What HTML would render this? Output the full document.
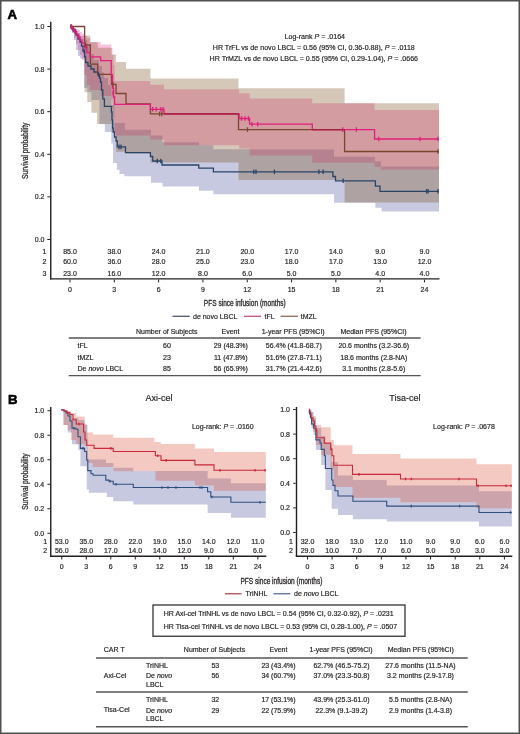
<!DOCTYPE html>
<html><head><meta charset="utf-8"><style>
html,body{margin:0;padding:0;background:#fff;}
body{width:520px;height:734px;overflow:hidden;}
svg{display:block;will-change:transform;}
text{font-family:"Liberation Sans", sans-serif;fill:#231f20;stroke:#231f20;stroke-width:0.18px;}
</style></head><body>
<svg width="520" height="734" viewBox="0 0 520 734">
<rect x="0" y="0" width="520" height="734" fill="#fff"/>

<polygon points="70.00,26.50 72.00,26.50 72.00,27.50 74.00,27.50 74.00,29.00 76.00,29.00 76.00,31.00 78.00,31.00 78.00,33.00 80.00,33.00 80.00,36.00 84.00,36.00 84.00,40.00 87.30,40.00 87.30,46.00 90.00,46.00 90.00,54.00 94.00,54.00 94.00,60.00 98.80,60.00 98.80,66.00 102.00,66.00 102.00,72.00 104.00,72.00 104.00,78.00 108.00,78.00 108.00,85.00 111.50,85.00 111.50,105.00 114.40,105.00 114.40,123.00 125.00,123.00 125.00,129.80 151.00,129.80 151.00,135.60 162.50,135.60 162.50,142.30 199.00,142.30 199.00,145.30 213.40,145.30 213.40,149.20 250.00,149.20 250.00,149.50 334.00,149.50 334.00,156.70 375.00,156.70 375.00,161.30 381.00,161.30 381.00,166.50 439.00,166.50 439.00,211.50 381.50,211.50 381.50,207.70 375.40,207.70 375.40,202.80 334.00,202.80 334.00,194.20 213.40,194.20 213.40,190.80 199.00,190.80 199.00,186.50 162.50,186.50 162.50,182.70 151.00,182.70 151.00,176.30 124.40,176.30 124.40,174.00 119.50,174.00 119.50,169.80 116.80,169.80 116.80,163.00 113.00,163.00 113.00,143.60 111.30,143.60 111.30,132.00 104.80,132.00 104.80,124.00 99.40,124.00 99.40,100.00 91.40,100.00 91.40,92.00 87.30,92.00 87.30,88.00 84.00,88.00 84.00,58.50 80.00,58.50 80.00,56.00 78.00,56.00 78.00,50.00 76.00,50.00 76.00,40.00 74.00,40.00 74.00,33.00 72.00,33.00 72.00,26.50 70.00,26.50" fill="rgb(80,88,160)" fill-opacity="0.32" stroke="none"/>
<polygon points="70.00,26.50 72.00,26.50 72.00,27.00 74.00,27.00 74.00,28.00 76.00,28.00 76.00,29.00 78.00,29.00 78.00,30.00 80.00,30.00 80.00,32.00 82.00,32.00 82.00,34.00 84.40,34.00 84.40,36.00 86.90,36.00 86.90,38.00 90.00,38.00 90.00,42.00 100.60,42.00 100.60,44.40 111.25,44.40 111.25,48.00 112.50,48.00 112.50,55.00 113.50,55.00 113.50,65.00 114.60,65.00 114.60,81.00 150.40,81.00 150.40,84.80 164.00,84.80 164.00,89.20 239.20,89.20 239.20,93.30 249.60,93.30 249.60,98.40 312.30,98.40 312.30,103.30 374.60,103.30 374.60,110.00 439.00,110.00 439.00,169.70 381.00,169.70 381.00,167.00 374.60,167.00 374.60,162.80 312.30,162.80 312.30,155.50 249.60,155.50 249.60,148.50 239.20,148.50 239.20,145.20 164.00,145.20 164.00,139.40 150.40,139.40 150.40,135.60 114.60,135.60 114.60,118.00 113.50,118.00 113.50,108.00 112.50,108.00 112.50,100.00 111.25,100.00 111.25,96.00 100.60,96.00 100.60,90.00 90.00,90.00 90.00,85.00 86.90,85.00 86.90,75.00 84.40,75.00 84.40,60.00 82.00,60.00 82.00,55.00 80.00,55.00 80.00,50.00 78.00,50.00 78.00,44.00 76.00,44.00 76.00,38.00 74.00,38.00 74.00,32.00 72.00,32.00 72.00,26.50 70.00,26.50" fill="rgb(235,50,137)" fill-opacity="0.3" stroke="none"/>
<polygon points="70.00,26.50 84.60,26.50 84.60,35.40 90.40,35.40 90.40,42.30 97.70,42.30 97.70,47.70 111.50,47.70 111.50,54.50 116.00,54.50 116.00,62.00 126.00,62.00 126.00,68.80 150.40,68.80 150.40,78.50 238.50,78.50 238.50,88.20 344.60,88.20 344.60,103.30 439.00,103.30 439.00,202.50 344.60,202.50 344.60,180.00 238.50,180.00 238.50,162.50 150.40,162.50 150.40,153.40 126.00,153.40 126.00,151.70 116.00,151.70 116.00,132.00 111.50,132.00 111.50,124.00 97.10,124.00 97.10,112.70 91.40,112.70 91.40,102.00 87.30,102.00 87.30,92.30 84.60,92.30 84.60,26.50 70.00,26.50" fill="rgb(118,72,22)" fill-opacity="0.3" stroke="none"/>
<polyline points="70.00,26.50 72.00,26.50 72.00,29.00 74.00,29.00 74.00,31.50 76.00,31.50 76.00,35.00 78.00,35.00 78.00,39.00 80.00,39.00 80.00,42.00 81.50,42.00 81.50,46.00 83.00,46.00 83.00,51.00 84.60,51.00 84.60,57.00 85.60,57.00 85.60,62.50 88.00,62.50 88.00,66.00 91.00,66.00 91.00,69.00 94.00,69.00 94.00,72.00 97.60,72.00 97.60,74.50 99.50,74.50 99.50,78.00 100.40,78.00 100.40,82.00 101.50,82.00 101.50,90.00 102.80,90.00 102.80,98.80 104.40,98.80 104.40,106.30 111.40,106.30 111.40,112.00 112.00,112.00 112.00,120.00 112.60,120.00 112.60,128.00 113.20,128.00 113.20,132.00 114.50,132.00 114.50,137.00 116.00,137.00 116.00,141.00 117.30,141.00 117.30,146.90 125.50,146.90 125.50,152.70 150.40,152.70 150.40,156.50 152.70,156.50 152.70,161.00 162.00,161.00 162.00,165.00 198.80,165.00 198.80,168.20 213.40,168.20 213.40,171.80 332.90,171.80 332.90,176.50 335.50,176.50 335.50,180.80 375.40,180.80 375.40,186.20 380.00,186.20 380.00,191.40 439.00,191.40" fill="none" stroke="#2a4468" stroke-width="1.3"/>
<polyline points="70.00,26.50 84.60,26.50 84.60,45.00 90.40,45.00 90.40,64.20 97.70,64.20 97.70,74.40 111.50,74.40 111.50,84.40 116.00,84.40 116.00,93.50 126.00,93.50 126.00,103.80 150.40,103.80 150.40,113.90 238.50,113.90 238.50,129.60 344.60,129.60 344.60,151.50 439.00,151.50" fill="none" stroke="#7a4630" stroke-width="1.3"/>
<polyline points="70.00,26.50 72.00,26.50 72.00,29.00 74.00,29.00 74.00,31.50 76.00,31.50 76.00,34.00 78.00,34.00 78.00,37.00 80.00,37.00 80.00,40.00 82.00,40.00 82.00,43.00 84.40,43.00 84.40,47.00 86.90,47.00 86.90,52.50 90.00,52.50 90.00,56.90 100.60,56.90 100.60,60.60 111.25,60.60 111.25,75.00 112.50,75.00 112.50,88.00 113.50,88.00 113.50,97.00 114.60,97.00 114.60,104.40 150.40,104.40 150.40,109.30 164.00,109.30 164.00,113.90 239.20,113.90 239.20,118.50 249.60,118.50 249.60,124.20 312.30,124.20 312.30,129.60 374.60,129.60 374.60,139.00 439.00,139.00" fill="none" stroke="#e0207a" stroke-width="1.3"/>
<line x1="164" y1="113.9" x2="238.5" y2="113.9" stroke="#a3203e" stroke-width="1.4"/>
<line x1="312.3" y1="129.6" x2="344.6" y2="129.6" stroke="#a3203e" stroke-width="1.4"/>
<line x1="71" y1="24.2" x2="71" y2="28.8" stroke="#2a4468" stroke-width="1.3"/>
<line x1="73" y1="26.7" x2="73" y2="31.3" stroke="#2a4468" stroke-width="1.3"/>
<line x1="75.5" y1="29.2" x2="75.5" y2="33.8" stroke="#2a4468" stroke-width="1.3"/>
<line x1="84" y1="48.7" x2="84" y2="53.3" stroke="#2a4468" stroke-width="1.3"/>
<line x1="98.5" y1="72.2" x2="98.5" y2="76.8" stroke="#2a4468" stroke-width="1.3"/>
<line x1="119" y1="144.6" x2="119" y2="149.20000000000002" stroke="#2a4468" stroke-width="1.3"/>
<line x1="121" y1="144.6" x2="121" y2="149.20000000000002" stroke="#2a4468" stroke-width="1.3"/>
<line x1="157.3" y1="158.7" x2="157.3" y2="163.3" stroke="#2a4468" stroke-width="1.3"/>
<line x1="160.8" y1="158.7" x2="160.8" y2="163.3" stroke="#2a4468" stroke-width="1.3"/>
<line x1="253.8" y1="169.5" x2="253.8" y2="174.10000000000002" stroke="#2a4468" stroke-width="1.3"/>
<line x1="256" y1="169.5" x2="256" y2="174.10000000000002" stroke="#2a4468" stroke-width="1.3"/>
<line x1="274.4" y1="169.5" x2="274.4" y2="174.10000000000002" stroke="#2a4468" stroke-width="1.3"/>
<line x1="318.9" y1="169.5" x2="318.9" y2="174.10000000000002" stroke="#2a4468" stroke-width="1.3"/>
<line x1="323.1" y1="169.5" x2="323.1" y2="174.10000000000002" stroke="#2a4468" stroke-width="1.3"/>
<line x1="343.1" y1="178.5" x2="343.1" y2="183.10000000000002" stroke="#2a4468" stroke-width="1.3"/>
<line x1="426.6" y1="189.0" x2="426.6" y2="193.60000000000002" stroke="#2a4468" stroke-width="1.3"/>
<line x1="428" y1="189.0" x2="428" y2="193.60000000000002" stroke="#2a4468" stroke-width="1.3"/>
<line x1="438" y1="189.0" x2="438" y2="193.60000000000002" stroke="#2a4468" stroke-width="1.3"/>
<line x1="71.5" y1="24.2" x2="71.5" y2="28.8" stroke="#e0207a" stroke-width="1.3"/>
<line x1="73" y1="26.7" x2="73" y2="31.3" stroke="#e0207a" stroke-width="1.3"/>
<line x1="75" y1="29.2" x2="75" y2="33.8" stroke="#e0207a" stroke-width="1.3"/>
<line x1="79" y1="34.7" x2="79" y2="39.3" stroke="#e0207a" stroke-width="1.3"/>
<line x1="85.5" y1="44.7" x2="85.5" y2="49.3" stroke="#e0207a" stroke-width="1.3"/>
<line x1="112" y1="77.7" x2="112" y2="82.3" stroke="#e0207a" stroke-width="1.3"/>
<line x1="113" y1="90.7" x2="113" y2="95.3" stroke="#e0207a" stroke-width="1.3"/>
<line x1="152.7" y1="107.0" x2="152.7" y2="111.6" stroke="#e0207a" stroke-width="1.3"/>
<line x1="156.2" y1="107.0" x2="156.2" y2="111.6" stroke="#e0207a" stroke-width="1.3"/>
<line x1="160.8" y1="107.0" x2="160.8" y2="111.6" stroke="#e0207a" stroke-width="1.3"/>
<line x1="163" y1="107.0" x2="163" y2="111.6" stroke="#e0207a" stroke-width="1.3"/>
<line x1="241.5" y1="116.2" x2="241.5" y2="120.8" stroke="#e0207a" stroke-width="1.3"/>
<line x1="245" y1="116.2" x2="245" y2="120.8" stroke="#e0207a" stroke-width="1.3"/>
<line x1="248.5" y1="116.2" x2="248.5" y2="120.8" stroke="#e0207a" stroke-width="1.3"/>
<line x1="252" y1="121.9" x2="252" y2="126.5" stroke="#e0207a" stroke-width="1.3"/>
<line x1="257.7" y1="121.9" x2="257.7" y2="126.5" stroke="#e0207a" stroke-width="1.3"/>
<line x1="342.7" y1="127.3" x2="342.7" y2="131.9" stroke="#e0207a" stroke-width="1.3"/>
<line x1="356.4" y1="127.3" x2="356.4" y2="131.9" stroke="#e0207a" stroke-width="1.3"/>
<line x1="378.7" y1="136.7" x2="378.7" y2="141.3" stroke="#e0207a" stroke-width="1.3"/>
<line x1="420" y1="136.7" x2="420" y2="141.3" stroke="#e0207a" stroke-width="1.3"/>
<line x1="437.9" y1="136.7" x2="437.9" y2="141.3" stroke="#e0207a" stroke-width="1.3"/>
<line x1="85.5" y1="42.7" x2="85.5" y2="47.3" stroke="#7a4630" stroke-width="1.3"/>
<line x1="113" y1="82.10000000000001" x2="113" y2="86.7" stroke="#7a4630" stroke-width="1.3"/>
<line x1="159.6" y1="111.60000000000001" x2="159.6" y2="116.2" stroke="#7a4630" stroke-width="1.3"/>
<line x1="161.9" y1="111.60000000000001" x2="161.9" y2="116.2" stroke="#7a4630" stroke-width="1.3"/>
<line x1="247.5" y1="127.3" x2="247.5" y2="131.9" stroke="#7a4630" stroke-width="1.3"/>
<line x1="438" y1="149.2" x2="438" y2="153.8" stroke="#7a4630" stroke-width="1.3"/>
<line x1="50.75" y1="21.8" x2="50.75" y2="279.6" stroke="#231f20" stroke-width="1.4"/>
<line x1="50.05" y1="278.9" x2="439.5" y2="278.9" stroke="#231f20" stroke-width="1.4"/>
<line x1="47.3" y1="239.50" x2="50" y2="239.50" stroke="#231f20" stroke-width="1"/>
<text x="44.5" y="241.90" font-size="7" text-anchor="end" >0.0</text>
<line x1="47.3" y1="196.90" x2="50" y2="196.90" stroke="#231f20" stroke-width="1"/>
<text x="44.5" y="199.30" font-size="7" text-anchor="end" >0.2</text>
<line x1="47.3" y1="154.30" x2="50" y2="154.30" stroke="#231f20" stroke-width="1"/>
<text x="44.5" y="156.70" font-size="7" text-anchor="end" >0.4</text>
<line x1="47.3" y1="111.70" x2="50" y2="111.70" stroke="#231f20" stroke-width="1"/>
<text x="44.5" y="114.10" font-size="7" text-anchor="end" >0.6</text>
<line x1="47.3" y1="69.10" x2="50" y2="69.10" stroke="#231f20" stroke-width="1"/>
<text x="44.5" y="71.50" font-size="7" text-anchor="end" >0.8</text>
<line x1="47.3" y1="26.50" x2="50" y2="26.50" stroke="#231f20" stroke-width="1"/>
<text x="44.5" y="28.90" font-size="7" text-anchor="end" >1.0</text>
<line x1="70.00" y1="279.6" x2="70.00" y2="282.4" stroke="#231f20" stroke-width="1"/>
<text x="70.00" y="292.3" font-size="7" text-anchor="middle" >0</text>
<line x1="114.31" y1="279.6" x2="114.31" y2="282.4" stroke="#231f20" stroke-width="1"/>
<text x="114.31" y="292.3" font-size="7" text-anchor="middle" >3</text>
<line x1="158.62" y1="279.6" x2="158.62" y2="282.4" stroke="#231f20" stroke-width="1"/>
<text x="158.62" y="292.3" font-size="7" text-anchor="middle" >6</text>
<line x1="202.93" y1="279.6" x2="202.93" y2="282.4" stroke="#231f20" stroke-width="1"/>
<text x="202.93" y="292.3" font-size="7" text-anchor="middle" >9</text>
<line x1="247.24" y1="279.6" x2="247.24" y2="282.4" stroke="#231f20" stroke-width="1"/>
<text x="247.24" y="292.3" font-size="7" text-anchor="middle" >12</text>
<line x1="291.55" y1="279.6" x2="291.55" y2="282.4" stroke="#231f20" stroke-width="1"/>
<text x="291.55" y="292.3" font-size="7" text-anchor="middle" >15</text>
<line x1="335.86" y1="279.6" x2="335.86" y2="282.4" stroke="#231f20" stroke-width="1"/>
<text x="335.86" y="292.3" font-size="7" text-anchor="middle" >18</text>
<line x1="380.17" y1="279.6" x2="380.17" y2="282.4" stroke="#231f20" stroke-width="1"/>
<text x="380.17" y="292.3" font-size="7" text-anchor="middle" >21</text>
<line x1="424.48" y1="279.6" x2="424.48" y2="282.4" stroke="#231f20" stroke-width="1"/>
<text x="424.48" y="292.3" font-size="7" text-anchor="middle" >24</text>
<text x="0" y="0" font-size="8.2" text-anchor="middle" style="stroke-width:0.25px" transform="translate(27.6,150.75) rotate(-90) scale(0.82,1)">Survival probability</text>
<text x="0" y="0" font-size="8.7" text-anchor="middle" style="stroke-width:0.3px" transform="translate(244.8,305.6) scale(0.755,1)">PFS since infusion (months)</text>
<text x="70.00" y="254.2" font-size="7" text-anchor="middle" >85.0</text>
<text x="114.31" y="254.2" font-size="7" text-anchor="middle" >38.0</text>
<text x="158.62" y="254.2" font-size="7" text-anchor="middle" >24.0</text>
<text x="202.93" y="254.2" font-size="7" text-anchor="middle" >21.0</text>
<text x="247.24" y="254.2" font-size="7" text-anchor="middle" >20.0</text>
<text x="291.55" y="254.2" font-size="7" text-anchor="middle" >17.0</text>
<text x="335.86" y="254.2" font-size="7" text-anchor="middle" >14.0</text>
<text x="380.17" y="254.2" font-size="7" text-anchor="middle" >9.0</text>
<text x="424.48" y="254.2" font-size="7" text-anchor="middle" >9.0</text>
<text x="70.00" y="264.2" font-size="7" text-anchor="middle" >60.0</text>
<text x="114.31" y="264.2" font-size="7" text-anchor="middle" >36.0</text>
<text x="158.62" y="264.2" font-size="7" text-anchor="middle" >28.0</text>
<text x="202.93" y="264.2" font-size="7" text-anchor="middle" >25.0</text>
<text x="247.24" y="264.2" font-size="7" text-anchor="middle" >23.0</text>
<text x="291.55" y="264.2" font-size="7" text-anchor="middle" >18.0</text>
<text x="335.86" y="264.2" font-size="7" text-anchor="middle" >17.0</text>
<text x="380.17" y="264.2" font-size="7" text-anchor="middle" >13.0</text>
<text x="424.48" y="264.2" font-size="7" text-anchor="middle" >12.0</text>
<text x="70.00" y="275.8" font-size="7" text-anchor="middle" >23.0</text>
<text x="114.31" y="275.8" font-size="7" text-anchor="middle" >16.0</text>
<text x="158.62" y="275.8" font-size="7" text-anchor="middle" >12.0</text>
<text x="202.93" y="275.8" font-size="7" text-anchor="middle" >8.0</text>
<text x="247.24" y="275.8" font-size="7" text-anchor="middle" >6.0</text>
<text x="291.55" y="275.8" font-size="7" text-anchor="middle" >5.0</text>
<text x="335.86" y="275.8" font-size="7" text-anchor="middle" >5.0</text>
<text x="380.17" y="275.8" font-size="7" text-anchor="middle" >4.0</text>
<text x="424.48" y="275.8" font-size="7" text-anchor="middle" >4.0</text>
<text x="46.5" y="254.2" font-size="7" text-anchor="end" >1</text>
<text x="46.5" y="264.2" font-size="7" text-anchor="end" >2</text>
<text x="46.5" y="275.8" font-size="7" text-anchor="end" >3</text>
<text x="314.8" y="38.8" font-size="7.1" text-anchor="middle" >Log-rank <tspan font-style="italic">P</tspan> = .0164</text>
<text x="313.8" y="49.8" font-size="7.1" text-anchor="middle" >HR TrFL vs de novo LBCL = 0.56 (95% CI, 0.36-0.88), <tspan font-style="italic">P</tspan> = .0118</text>
<text x="313.8" y="60.8" font-size="7.1" text-anchor="middle" >HR TrMZL vs de novo LBCL = 0.55 (95% CI, 0.29-1.04), <tspan font-style="italic">P</tspan> = .0666</text>
<text x="7.6" y="18.6" font-size="13.2" text-anchor="start" font-weight="bold" style="stroke:#000;fill:#000;stroke-width:0.6px">A</text>
<line x1="172.5" y1="316.3" x2="189.7" y2="316.3" stroke="#4b5a72" stroke-width="1.3"/>
<text x="193" y="319" font-size="7" text-anchor="start" >de novo LBCL</text>
<line x1="244" y1="316.3" x2="261" y2="316.3" stroke="#c2507e" stroke-width="1.3"/>
<text x="264.6" y="319" font-size="7" text-anchor="start" >tFL</text>
<line x1="280.5" y1="316.3" x2="297.9" y2="316.3" stroke="#8c6e5a" stroke-width="1.3"/>
<text x="300.8" y="319" font-size="7" text-anchor="start" >tMZL</text>
<line x1="68.75" y1="338" x2="420.6" y2="338" stroke="#555" stroke-width="1.4"/>
<line x1="68.75" y1="375.6" x2="420.6" y2="375.6" stroke="#555" stroke-width="1.4"/>
<text x="166.8" y="333.5" font-size="7" text-anchor="middle" >Number of Subjects</text>
<text x="230.5" y="333.5" font-size="7" text-anchor="middle" >Event</text>
<text x="293.2" y="333.5" font-size="7" text-anchor="middle" >1-year PFS (95%CI)</text>
<text x="373.5" y="333.5" font-size="7" text-anchor="middle" >Median PFS (95%CI)</text>
<text x="77.5" y="348" font-size="7" text-anchor="start" >tFL</text>
<text x="167" y="348" font-size="7" text-anchor="middle" >60</text>
<text x="230.8" y="348" font-size="7" text-anchor="middle" >29 (48.3%)</text>
<text x="293.8" y="348" font-size="7" text-anchor="middle" >56.4% (41.8-68.7)</text>
<text x="373.8" y="348" font-size="7" text-anchor="middle" >20.6 months (3.2-36.6)</text>
<text x="77.5" y="359.5" font-size="7" text-anchor="start" >tMZL</text>
<text x="167" y="359.5" font-size="7" text-anchor="middle" >23</text>
<text x="230.8" y="359.5" font-size="7" text-anchor="middle" >11 (47.8%)</text>
<text x="293.8" y="359.5" font-size="7" text-anchor="middle" >51.6% (27.8-71.1)</text>
<text x="373.8" y="359.5" font-size="7" text-anchor="middle" >18.6 months (2.8-NA)</text>
<text x="77.5" y="371" font-size="7" text-anchor="start" >De <tspan font-style="italic">novo</tspan> LBCL</text>
<text x="167" y="371" font-size="7" text-anchor="middle" >85</text>
<text x="230.8" y="371" font-size="7" text-anchor="middle" >56 (65.9%)</text>
<text x="293.8" y="371" font-size="7" text-anchor="middle" >31.7% (21.4-42.6)</text>
<text x="373.8" y="371" font-size="7" text-anchor="middle" >3.1 months (2.8-5.6)</text>
<text x="7.9" y="403.8" font-size="13.2" text-anchor="start" font-weight="bold" style="stroke:#000;fill:#000;stroke-width:0.6px">B</text>
<polygon points="61.30,409.50 63.50,409.50 63.50,411.00 67.70,411.00 67.70,413.50 72.00,413.50 72.00,418.00 78.30,418.00 78.30,420.00 84.60,420.00 84.60,425.00 87.50,425.00 87.50,459.60 106.00,459.60 106.00,463.00 113.50,463.00 113.50,467.70 133.30,467.70 133.30,471.00 207.60,471.00 207.60,478.60 230.90,478.60 230.90,483.30 265.80,483.30 265.80,517.80 230.90,517.80 230.90,512.90 207.60,512.90 207.60,504.40 133.30,504.40 133.30,501.30 113.20,501.30 113.20,497.00 106.80,497.00 106.80,492.80 88.80,492.80 88.80,489.60 86.70,489.60 86.70,466.30 80.40,466.30 80.40,450.00 78.30,450.00 78.30,444.30 72.00,444.30 72.00,432.50 67.70,432.50 67.70,425.00 63.50,425.00 63.50,411.00 61.30,411.00" fill="rgb(80,88,160)" fill-opacity="0.32" stroke="none"/>
<polygon points="61.30,409.50 63.50,409.50 63.50,410.00 67.70,410.00 67.70,411.00 70.90,411.00 70.90,413.00 76.20,413.00 76.20,416.50 84.60,416.50 84.60,424.00 86.70,424.00 86.70,432.50 93.00,432.50 93.00,434.60 113.20,434.60 113.20,437.80 154.40,437.80 154.40,442.00 160.80,442.00 160.80,444.10 194.90,444.10 194.90,448.40 214.00,448.40 214.00,452.00 265.80,452.00 265.80,490.70 214.00,490.70 214.00,485.40 194.90,485.40 194.90,480.70 155.50,480.70 155.50,471.00 133.30,471.00 133.30,471.20 113.50,471.20 113.50,467.10 92.70,467.10 92.70,463.00 86.70,463.00 86.70,446.00 84.60,446.00 84.60,444.30 76.20,444.30 76.20,440.00 70.90,440.00 70.90,430.00 67.70,430.00 67.70,425.00 63.50,425.00 63.50,411.00 61.30,411.00" fill="rgb(215,75,50)" fill-opacity="0.3" stroke="none"/>
<polyline points="61.30,409.70 64.00,409.70 64.00,411.00 66.00,411.00 66.00,413.00 68.00,413.00 68.00,416.00 70.00,416.00 70.00,421.00 72.00,421.00 72.00,428.30 76.00,428.30 76.00,429.30 78.00,429.30 78.00,436.70 80.40,436.70 80.40,448.40 84.60,448.40 84.60,451.50 86.70,451.50 86.70,460.00 87.80,460.00 87.80,470.60 91.00,470.60 91.00,473.80 93.10,473.80 93.10,475.20 105.80,475.20 105.80,480.10 109.00,480.10 109.00,481.20 113.20,481.20 113.20,484.30 133.30,484.30 133.30,487.50 207.60,487.50 207.60,491.70 210.80,491.70 210.80,497.00 230.90,497.00 230.90,502.30 265.80,502.30" fill="none" stroke="#2f4f7f" stroke-width="1.1"/>
<polyline points="61.30,409.70 64.00,409.70 64.00,411.00 67.00,411.00 67.00,412.50 69.80,412.50 69.80,414.50 73.00,414.50 73.00,419.80 76.20,419.80 76.20,424.00 83.60,424.00 83.60,432.00 85.00,432.00 85.00,440.00 86.70,440.00 86.70,445.20 94.10,445.20 94.10,448.40 113.20,448.40 113.20,451.50 155.40,451.50 155.40,455.80 161.00,455.80 161.00,460.40 194.90,460.40 194.90,464.90 214.00,464.90 214.00,470.20 265.80,470.20" fill="none" stroke="#c8283a" stroke-width="1.1"/>
<line x1="79" y1="422.7" x2="79" y2="425.3" stroke="#c8283a" stroke-width="1.3"/>
<line x1="110.8" y1="447.09999999999997" x2="110.8" y2="449.7" stroke="#c8283a" stroke-width="1.3"/>
<line x1="157.7" y1="454.5" x2="157.7" y2="457.1" stroke="#c8283a" stroke-width="1.3"/>
<line x1="166.2" y1="459.09999999999997" x2="166.2" y2="461.7" stroke="#c8283a" stroke-width="1.3"/>
<line x1="220" y1="468.9" x2="220" y2="471.5" stroke="#c8283a" stroke-width="1.3"/>
<line x1="255" y1="468.9" x2="255" y2="471.5" stroke="#c8283a" stroke-width="1.3"/>
<line x1="265" y1="468.9" x2="265" y2="471.5" stroke="#c8283a" stroke-width="1.3"/>
<line x1="74" y1="427.0" x2="74" y2="429.6" stroke="#2f4f7f" stroke-width="1.3"/>
<line x1="83" y1="447.09999999999997" x2="83" y2="449.7" stroke="#2f4f7f" stroke-width="1.3"/>
<line x1="110" y1="479.9" x2="110" y2="482.5" stroke="#2f4f7f" stroke-width="1.3"/>
<line x1="116" y1="483.0" x2="116" y2="485.6" stroke="#2f4f7f" stroke-width="1.3"/>
<line x1="162" y1="486.2" x2="162" y2="488.8" stroke="#2f4f7f" stroke-width="1.3"/>
<line x1="168" y1="486.2" x2="168" y2="488.8" stroke="#2f4f7f" stroke-width="1.3"/>
<line x1="176" y1="486.2" x2="176" y2="488.8" stroke="#2f4f7f" stroke-width="1.3"/>
<line x1="200" y1="486.2" x2="200" y2="488.8" stroke="#2f4f7f" stroke-width="1.3"/>
<line x1="202" y1="486.2" x2="202" y2="488.8" stroke="#2f4f7f" stroke-width="1.3"/>
<line x1="212" y1="495.7" x2="212" y2="498.3" stroke="#2f4f7f" stroke-width="1.3"/>
<line x1="260" y1="501.0" x2="260" y2="503.6" stroke="#2f4f7f" stroke-width="1.3"/>
<line x1="50.75" y1="407" x2="50.75" y2="556.9" stroke="#231f20" stroke-width="1.4"/>
<line x1="50.05" y1="556.2" x2="266.3" y2="556.2" stroke="#231f20" stroke-width="1.4"/>
<line x1="47.45" y1="533.25" x2="50.05" y2="533.25" stroke="#231f20" stroke-width="1"/>
<text x="44.25" y="535.65" font-size="7" text-anchor="end" >0.0</text>
<line x1="47.45" y1="508.75" x2="50.05" y2="508.75" stroke="#231f20" stroke-width="1"/>
<text x="44.25" y="511.15" font-size="7" text-anchor="end" >0.2</text>
<line x1="47.45" y1="484.25" x2="50.05" y2="484.25" stroke="#231f20" stroke-width="1"/>
<text x="44.25" y="486.65" font-size="7" text-anchor="end" >0.4</text>
<line x1="47.45" y1="459.75" x2="50.05" y2="459.75" stroke="#231f20" stroke-width="1"/>
<text x="44.25" y="462.15" font-size="7" text-anchor="end" >0.6</text>
<line x1="47.45" y1="435.25" x2="50.05" y2="435.25" stroke="#231f20" stroke-width="1"/>
<text x="44.25" y="437.65" font-size="7" text-anchor="end" >0.8</text>
<line x1="47.45" y1="410.75" x2="50.05" y2="410.75" stroke="#231f20" stroke-width="1"/>
<text x="44.25" y="413.15" font-size="7" text-anchor="end" >1.0</text>
<line x1="61.75" y1="556.9" x2="61.75" y2="559.5" stroke="#231f20" stroke-width="1"/>
<text x="61.75" y="569.4" font-size="7" text-anchor="middle" >0</text>
<line x1="86.26" y1="556.9" x2="86.26" y2="559.5" stroke="#231f20" stroke-width="1"/>
<text x="86.26" y="569.4" font-size="7" text-anchor="middle" >3</text>
<line x1="110.77" y1="556.9" x2="110.77" y2="559.5" stroke="#231f20" stroke-width="1"/>
<text x="110.77" y="569.4" font-size="7" text-anchor="middle" >6</text>
<line x1="135.28" y1="556.9" x2="135.28" y2="559.5" stroke="#231f20" stroke-width="1"/>
<text x="135.28" y="569.4" font-size="7" text-anchor="middle" >9</text>
<line x1="159.79" y1="556.9" x2="159.79" y2="559.5" stroke="#231f20" stroke-width="1"/>
<text x="159.79" y="569.4" font-size="7" text-anchor="middle" >12</text>
<line x1="184.30" y1="556.9" x2="184.30" y2="559.5" stroke="#231f20" stroke-width="1"/>
<text x="184.30" y="569.4" font-size="7" text-anchor="middle" >15</text>
<line x1="208.81" y1="556.9" x2="208.81" y2="559.5" stroke="#231f20" stroke-width="1"/>
<text x="208.81" y="569.4" font-size="7" text-anchor="middle" >18</text>
<line x1="233.32" y1="556.9" x2="233.32" y2="559.5" stroke="#231f20" stroke-width="1"/>
<text x="233.32" y="569.4" font-size="7" text-anchor="middle" >21</text>
<line x1="257.83" y1="556.9" x2="257.83" y2="559.5" stroke="#231f20" stroke-width="1"/>
<text x="257.83" y="569.4" font-size="7" text-anchor="middle" >24</text>
<text x="61.75" y="543.6" font-size="7" text-anchor="middle" >53.0</text>
<text x="86.26" y="543.6" font-size="7" text-anchor="middle" >35.0</text>
<text x="110.77" y="543.6" font-size="7" text-anchor="middle" >28.0</text>
<text x="135.28" y="543.6" font-size="7" text-anchor="middle" >22.0</text>
<text x="159.79" y="543.6" font-size="7" text-anchor="middle" >19.0</text>
<text x="184.30" y="543.6" font-size="7" text-anchor="middle" >15.0</text>
<text x="208.81" y="543.6" font-size="7" text-anchor="middle" >14.0</text>
<text x="233.32" y="543.6" font-size="7" text-anchor="middle" >12.0</text>
<text x="257.83" y="543.6" font-size="7" text-anchor="middle" >11.0</text>
<text x="61.75" y="553.4" font-size="7" text-anchor="middle" >56.0</text>
<text x="86.26" y="553.4" font-size="7" text-anchor="middle" >28.0</text>
<text x="110.77" y="553.4" font-size="7" text-anchor="middle" >17.0</text>
<text x="135.28" y="553.4" font-size="7" text-anchor="middle" >14.0</text>
<text x="159.79" y="553.4" font-size="7" text-anchor="middle" >14.0</text>
<text x="184.30" y="553.4" font-size="7" text-anchor="middle" >12.0</text>
<text x="208.81" y="553.4" font-size="7" text-anchor="middle" >9.0</text>
<text x="233.32" y="553.4" font-size="7" text-anchor="middle" >6.0</text>
<text x="257.83" y="553.4" font-size="7" text-anchor="middle" >6.0</text>
<text x="47.05" y="543.6" font-size="7" text-anchor="end" >1</text>
<text x="47.05" y="553.4" font-size="7" text-anchor="end" >2</text>
<text x="158.9" y="400.9" font-size="9" text-anchor="middle" >Axi-cel</text>
<text x="191.9" y="429" font-size="7" text-anchor="start" >Log-rank: <tspan font-style="italic">P</tspan> = .0160</text>
<polygon points="309.50,410.00 311.60,410.00 311.60,412.00 313.70,412.00 313.70,418.00 315.90,418.00 315.90,428.00 321.20,428.00 321.20,436.00 325.40,436.00 325.40,444.00 331.70,444.00 331.70,462.00 338.00,462.00 338.00,475.40 352.90,475.40 352.90,480.10 386.70,480.10 386.70,485.40 479.00,485.40 479.00,491.30 511.80,491.30 511.80,526.60 479.00,526.60 479.00,521.40 386.70,521.40 386.70,519.20 352.90,519.20 352.90,515.00 338.00,515.00 338.00,508.70 331.70,508.70 331.70,490.00 325.40,490.00 325.40,465.00 321.20,465.00 321.20,450.00 315.90,450.00 315.90,435.00 313.70,435.00 313.70,428.00 311.60,428.00 311.60,414.00 309.50,414.00" fill="rgb(80,88,160)" fill-opacity="0.32" stroke="none"/>
<polygon points="309.50,409.50 311.00,409.50 311.00,412.00 313.00,412.00 313.00,416.00 315.90,416.00 315.90,425.10 321.20,425.10 321.20,427.20 330.70,427.20 330.70,440.00 333.80,440.00 333.80,445.20 352.50,445.20 352.50,454.10 400.50,454.10 400.50,458.50 476.50,458.50 476.50,464.20 511.80,464.20 511.80,508.20 476.50,508.20 476.50,502.30 400.50,502.30 400.50,497.70 352.50,497.70 352.50,487.00 333.80,487.00 333.80,470.00 330.70,470.00 330.70,455.00 321.20,455.00 321.20,445.00 315.90,445.00 315.90,432.00 313.00,432.00 313.00,425.00 311.00,425.00 311.00,409.50 309.50,409.50" fill="rgb(215,75,50)" fill-opacity="0.3" stroke="none"/>
<polyline points="309.50,411.00 309.50,414.00 310.50,414.00 310.50,417.70 311.60,417.70 311.60,424.00 313.70,424.00 313.70,428.30 315.90,428.30 315.90,439.90 320.00,439.90 320.00,443.00 321.20,443.00 321.20,449.40 324.30,449.40 324.30,455.80 325.40,455.80 325.40,468.50 331.70,468.50 331.70,480.00 333.00,480.00 333.00,485.40 335.00,485.40 335.00,490.70 338.00,490.70 338.00,496.00 352.90,496.00 352.90,501.30 386.70,501.30 386.70,506.10 479.00,506.10 479.00,512.50 511.80,512.50" fill="none" stroke="#2f4f7f" stroke-width="1.1"/>
<polyline points="309.50,409.50 309.50,413.00 311.00,413.00 311.00,417.70 313.00,417.70 313.00,421.00 314.50,421.00 314.50,426.00 315.90,426.00 315.90,430.40 316.90,430.40 316.90,437.80 324.30,437.80 324.30,443.10 330.70,443.10 330.70,449.00 332.00,449.00 332.00,455.80 333.80,455.80 333.80,465.30 352.50,465.30 352.50,474.40 400.50,474.40 400.50,479.00 476.50,479.00 476.50,485.80 511.80,485.80" fill="none" stroke="#c8283a" stroke-width="1.1"/>
<line x1="309.5" y1="408.7" x2="309.5" y2="411.3" stroke="#c8283a" stroke-width="1.3"/>
<line x1="310" y1="410.7" x2="310" y2="413.3" stroke="#c8283a" stroke-width="1.3"/>
<line x1="331" y1="447.7" x2="331" y2="450.3" stroke="#c8283a" stroke-width="1.3"/>
<line x1="359" y1="473.09999999999997" x2="359" y2="475.7" stroke="#c8283a" stroke-width="1.3"/>
<line x1="405.5" y1="477.7" x2="405.5" y2="480.3" stroke="#c8283a" stroke-width="1.3"/>
<line x1="411.3" y1="477.7" x2="411.3" y2="480.3" stroke="#c8283a" stroke-width="1.3"/>
<line x1="459" y1="477.7" x2="459" y2="480.3" stroke="#c8283a" stroke-width="1.3"/>
<line x1="478" y1="484.5" x2="478" y2="487.1" stroke="#c8283a" stroke-width="1.3"/>
<line x1="506" y1="484.5" x2="506" y2="487.1" stroke="#c8283a" stroke-width="1.3"/>
<line x1="511" y1="484.5" x2="511" y2="487.1" stroke="#c8283a" stroke-width="1.3"/>
<line x1="309.5" y1="410.7" x2="309.5" y2="413.3" stroke="#2f4f7f" stroke-width="1.3"/>
<line x1="310.5" y1="414.7" x2="310.5" y2="417.3" stroke="#2f4f7f" stroke-width="1.3"/>
<line x1="411.3" y1="504.8" x2="411.3" y2="507.40000000000003" stroke="#2f4f7f" stroke-width="1.3"/>
<line x1="459.6" y1="504.8" x2="459.6" y2="507.40000000000003" stroke="#2f4f7f" stroke-width="1.3"/>
<line x1="510.5" y1="511.2" x2="510.5" y2="513.8" stroke="#2f4f7f" stroke-width="1.3"/>
<line x1="296.5" y1="407" x2="296.5" y2="556.9" stroke="#231f20" stroke-width="1.4"/>
<line x1="295.8" y1="556.2" x2="512.3" y2="556.2" stroke="#231f20" stroke-width="1.4"/>
<line x1="293.2" y1="532.50" x2="295.8" y2="532.50" stroke="#231f20" stroke-width="1"/>
<text x="290.00" y="534.90" font-size="7" text-anchor="end" >0.0</text>
<line x1="293.2" y1="507.90" x2="295.8" y2="507.90" stroke="#231f20" stroke-width="1"/>
<text x="290.00" y="510.30" font-size="7" text-anchor="end" >0.2</text>
<line x1="293.2" y1="483.30" x2="295.8" y2="483.30" stroke="#231f20" stroke-width="1"/>
<text x="290.00" y="485.70" font-size="7" text-anchor="end" >0.4</text>
<line x1="293.2" y1="458.70" x2="295.8" y2="458.70" stroke="#231f20" stroke-width="1"/>
<text x="290.00" y="461.10" font-size="7" text-anchor="end" >0.6</text>
<line x1="293.2" y1="434.10" x2="295.8" y2="434.10" stroke="#231f20" stroke-width="1"/>
<text x="290.00" y="436.50" font-size="7" text-anchor="end" >0.8</text>
<line x1="293.2" y1="409.50" x2="295.8" y2="409.50" stroke="#231f20" stroke-width="1"/>
<text x="290.00" y="411.90" font-size="7" text-anchor="end" >1.0</text>
<line x1="307.50" y1="556.9" x2="307.50" y2="559.5" stroke="#231f20" stroke-width="1"/>
<text x="307.50" y="569.4" font-size="7" text-anchor="middle" >0</text>
<line x1="332.12" y1="556.9" x2="332.12" y2="559.5" stroke="#231f20" stroke-width="1"/>
<text x="332.12" y="569.4" font-size="7" text-anchor="middle" >3</text>
<line x1="356.73" y1="556.9" x2="356.73" y2="559.5" stroke="#231f20" stroke-width="1"/>
<text x="356.73" y="569.4" font-size="7" text-anchor="middle" >6</text>
<line x1="381.35" y1="556.9" x2="381.35" y2="559.5" stroke="#231f20" stroke-width="1"/>
<text x="381.35" y="569.4" font-size="7" text-anchor="middle" >9</text>
<line x1="405.96" y1="556.9" x2="405.96" y2="559.5" stroke="#231f20" stroke-width="1"/>
<text x="405.96" y="569.4" font-size="7" text-anchor="middle" >12</text>
<line x1="430.57" y1="556.9" x2="430.57" y2="559.5" stroke="#231f20" stroke-width="1"/>
<text x="430.57" y="569.4" font-size="7" text-anchor="middle" >15</text>
<line x1="455.19" y1="556.9" x2="455.19" y2="559.5" stroke="#231f20" stroke-width="1"/>
<text x="455.19" y="569.4" font-size="7" text-anchor="middle" >18</text>
<line x1="479.81" y1="556.9" x2="479.81" y2="559.5" stroke="#231f20" stroke-width="1"/>
<text x="479.81" y="569.4" font-size="7" text-anchor="middle" >21</text>
<line x1="504.42" y1="556.9" x2="504.42" y2="559.5" stroke="#231f20" stroke-width="1"/>
<text x="504.42" y="569.4" font-size="7" text-anchor="middle" >24</text>
<text x="307.50" y="543.6" font-size="7" text-anchor="middle" >32.0</text>
<text x="332.12" y="543.6" font-size="7" text-anchor="middle" >18.0</text>
<text x="356.73" y="543.6" font-size="7" text-anchor="middle" >13.0</text>
<text x="381.35" y="543.6" font-size="7" text-anchor="middle" >12.0</text>
<text x="405.96" y="543.6" font-size="7" text-anchor="middle" >11.0</text>
<text x="430.57" y="543.6" font-size="7" text-anchor="middle" >9.0</text>
<text x="455.19" y="543.6" font-size="7" text-anchor="middle" >9.0</text>
<text x="479.81" y="543.6" font-size="7" text-anchor="middle" >6.0</text>
<text x="504.42" y="543.6" font-size="7" text-anchor="middle" >6.0</text>
<text x="307.50" y="553.4" font-size="7" text-anchor="middle" >29.0</text>
<text x="332.12" y="553.4" font-size="7" text-anchor="middle" >10.0</text>
<text x="356.73" y="553.4" font-size="7" text-anchor="middle" >7.0</text>
<text x="381.35" y="553.4" font-size="7" text-anchor="middle" >7.0</text>
<text x="405.96" y="553.4" font-size="7" text-anchor="middle" >6.0</text>
<text x="430.57" y="553.4" font-size="7" text-anchor="middle" >5.0</text>
<text x="455.19" y="553.4" font-size="7" text-anchor="middle" >5.0</text>
<text x="479.81" y="553.4" font-size="7" text-anchor="middle" >3.0</text>
<text x="504.42" y="553.4" font-size="7" text-anchor="middle" >3.0</text>
<text x="292.80" y="543.6" font-size="7" text-anchor="end" >1</text>
<text x="292.80" y="553.4" font-size="7" text-anchor="end" >2</text>
<text x="404.9" y="400.9" font-size="9" text-anchor="middle" >Tisa-cel</text>
<text x="433.1" y="429" font-size="7" text-anchor="start" >Log-rank: <tspan font-style="italic">P</tspan> = .0678</text>
<text x="0" y="0" font-size="8.2" text-anchor="middle" style="stroke-width:0.25px" transform="translate(27.6,481.5) rotate(-90) scale(0.82,1)">Survival probability</text>
<text x="0" y="0" font-size="8.7" text-anchor="middle" style="stroke-width:0.3px" transform="translate(281.4,583.8) scale(0.755,1)">PFS since infusion (months)</text>
<line x1="225" y1="593.75" x2="241.6" y2="593.75" stroke="#b8485a" stroke-width="1.3"/>
<text x="245.6" y="596.3" font-size="7" text-anchor="start" >TriNHL</text>
<line x1="273.4" y1="593.75" x2="290.3" y2="593.75" stroke="#5a6f90" stroke-width="1.3"/>
<text x="294" y="596.3" font-size="7" text-anchor="start" >de <tspan font-style="italic">novo</tspan> LBCL</text>
<rect x="153" y="605" width="252" height="31.25" fill="none" stroke="#333" stroke-width="1.3"/>
<text x="163.75" y="616.3" font-size="7" text-anchor="start" >HR Axi-cel TriNHL vs de novo LBCL = 0.54 (95% CI, 0.32-0.92), <tspan font-style="italic">P</tspan> = .0231</text>
<text x="163.75" y="628.8" font-size="7" text-anchor="start" >HR Tisa-cel TriNHL vs de novo LBCL = 0.53 (95% CI, 0.28-1.00), <tspan font-style="italic">P</tspan> = .0507</text>
<line x1="96" y1="658" x2="467.7" y2="658" stroke="#555" stroke-width="1.4"/>
<line x1="96" y1="692" x2="467.7" y2="692" stroke="#555" stroke-width="1.4"/>
<line x1="96" y1="726.7" x2="467.7" y2="726.7" stroke="#555" stroke-width="1.4"/>
<text x="103.8" y="652.3" font-size="7" text-anchor="start" >CAR T</text>
<text x="214.6" y="652.3" font-size="7" text-anchor="middle" >Number of Subjects</text>
<text x="278.5" y="652.3" font-size="7" text-anchor="middle" >Event</text>
<text x="341" y="652.3" font-size="7" text-anchor="middle" >1-year PFS (95%CI)</text>
<text x="420.7" y="652.3" font-size="7" text-anchor="middle" >Median PFS (95%CI)</text>
<text x="103.8" y="677.5" font-size="7" text-anchor="start" >Axi-Cel</text>
<text x="103.8" y="711.5" font-size="7" text-anchor="start" >Tisa-Cel</text>
<text x="146" y="667.5" font-size="7" text-anchor="start" >TriNHL</text>
<text x="215.3" y="667.5" font-size="7" text-anchor="middle" >53</text>
<text x="278.5" y="667.5" font-size="7" text-anchor="middle" >23 (43.4%)</text>
<text x="341.5" y="667.5" font-size="7" text-anchor="middle" >62.7% (46.5-75.2)</text>
<text x="420.5" y="667.5" font-size="7" text-anchor="middle" >27.6 months (11.5-NA)</text>
<text x="146" y="678.1" font-size="7" text-anchor="start" >De <tspan font-style="italic">novo</tspan></text>
<text x="215.3" y="678.1" font-size="7" text-anchor="middle" >56</text>
<text x="278.5" y="678.1" font-size="7" text-anchor="middle" >34 (60.7%)</text>
<text x="341.5" y="678.1" font-size="7" text-anchor="middle" >37.0% (23.3-50.8)</text>
<text x="420.5" y="678.1" font-size="7" text-anchor="middle" >3.2 months (2.9-17.8)</text>
<text x="146" y="701.5" font-size="7" text-anchor="start" >TriNHL</text>
<text x="215.3" y="701.5" font-size="7" text-anchor="middle" >32</text>
<text x="278.5" y="701.5" font-size="7" text-anchor="middle" >17 (53.1%)</text>
<text x="341.5" y="701.5" font-size="7" text-anchor="middle" >43.9% (25.3-61.0)</text>
<text x="420.5" y="701.5" font-size="7" text-anchor="middle" >5.5 months (2.8-NA)</text>
<text x="146" y="712.9" font-size="7" text-anchor="start" >De <tspan font-style="italic">novo</tspan></text>
<text x="215.3" y="712.9" font-size="7" text-anchor="middle" >29</text>
<text x="278.5" y="712.9" font-size="7" text-anchor="middle" >22 (75.9%)</text>
<text x="341.5" y="712.9" font-size="7" text-anchor="middle" >22.3% (9.1-39.2)</text>
<text x="420.5" y="712.9" font-size="7" text-anchor="middle" >2.9 months (1.4-3.8)</text>
<text x="146" y="686.5" font-size="7" text-anchor="start" >LBCL</text>
<text x="146" y="721.2" font-size="7" text-anchor="start" >LBCL</text>
<rect x="0.75" y="0.75" width="518.5" height="732.5" fill="none" stroke="#505050" stroke-width="1.5"/>
</svg></body></html>
